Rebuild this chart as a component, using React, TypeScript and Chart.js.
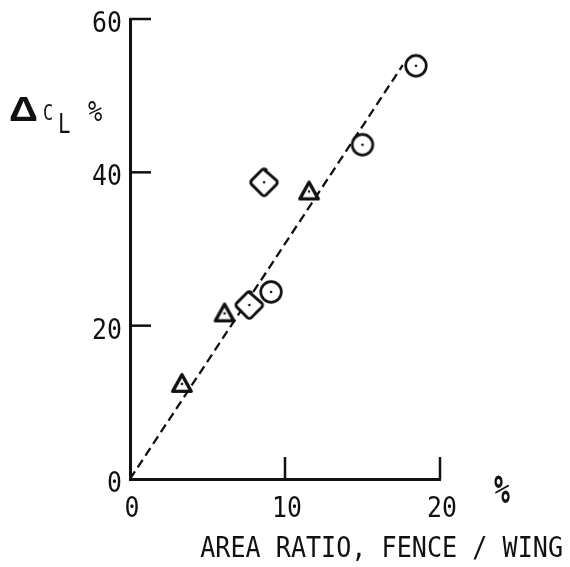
import React, { useEffect, useRef } from "react";
import { Chart, registerables } from "chart.js";

Chart.register(...registerables);

// ---- data ----
const circleX = [9.1, 15.0, 18.45];
const circleY = [24.4, 43.6, 53.9];
const triangleX = [3.35, 6.1, 11.55];
const triangleY = [12.4, 21.6, 37.5];
const diamondX = [7.7, 8.65];
const diamondY = [22.7, 38.7];
const fitX = [0, 17.6];
const fitY = [0, 54.0];
const xTicks = [0, 10, 20];
const yTicks = [0, 20, 40, 60];
const xTitle = "AREA RATIO, FENCE / WING";
const xUnit = "%";
const yTitleDelta = "Δ";
const yTitleC = "C";
const yTitleSub = "L";
const yUnit = "%";

const INK = "#111";
const MONO = '"DejaVu Sans Mono", monospace';

const toPts = (xs: number[], ys: number[]) => xs.map((x, i) => ({ x, y: ys[i] }));

function makeMarker(kind: string): HTMLCanvasElement {
  const size = 40;
  const c = document.createElement("canvas");
  c.width = size;
  c.height = size;
  const g = c.getContext("2d")!;
  const m = size / 2;
  g.strokeStyle = INK;
  g.fillStyle = "#fff";
  g.lineJoin = "round";
  g.beginPath();
  if (kind === "circle") {
    g.lineWidth = 2.7;
    g.arc(m, m, 10.3, 0, Math.PI * 2);
  } else if (kind === "triangle") {
    g.lineWidth = 3.4;
    g.moveTo(m, m - 9.2);
    g.lineTo(m + 9.2, m + 7.4);
    g.lineTo(m - 9.2, m + 7.4);
    g.closePath();
  } else {
    g.lineWidth = 2.9;
    const h = 14.6;
    const r = 3;
    g.moveTo(m, m - h + 2);
    g.arcTo(m + h, m, m, m + h, r);
    g.arcTo(m, m + h, m - h, m, r);
    g.arcTo(m - h, m, m, m - h, r);
    g.arcTo(m, m - h, m + h, m, r);
    g.closePath();
  }
  g.fill();
  g.stroke();
  g.beginPath();
  g.fillStyle = INK;
  g.arc(m, m, 1.3, 0, Math.PI * 2);
  g.fill();
  return c;
}

function drawText(
  ctx: CanvasRenderingContext2D,
  s: string,
  x: number,
  y: number,
  font: string,
  align: CanvasTextAlign,
  sx = 1,
  sy = 1,
  strokeW = 0
) {
  ctx.save();
  ctx.translate(x, y);
  ctx.scale(sx, sy);
  ctx.font = font;
  ctx.textAlign = align;
  ctx.textBaseline = "alphabetic";
  ctx.fillStyle = INK;
  ctx.fillText(s, 0, 0);
  if (strokeW > 0) {
    ctx.strokeStyle = INK;
    ctx.lineWidth = strokeW;
    ctx.lineJoin = "round";
    ctx.strokeText(s, 0, 0);
  }
  ctx.restore();
}

const decorPlugin = {
  id: "decor",
  afterDraw(chart: any) {
    const ctx: CanvasRenderingContext2D = chart.ctx;
    const xs = chart.scales.x;
    const ys = chart.scales.y;
    const left = chart.chartArea.left;
    const bottom = chart.chartArea.bottom;
    ctx.save();
    ctx.strokeStyle = INK;
    ctx.lineWidth = 2.5;
    // tick marks (pointing inward)
    for (const v of yTicks) {
      if (v === 0) continue;
      const py = ys.getPixelForValue(v);
      ctx.beginPath();
      ctx.moveTo(left, py);
      ctx.lineTo(left + 21, py);
      ctx.stroke();
    }
    for (const v of xTicks) {
      if (v === 0) continue;
      const px = xs.getPixelForValue(v);
      ctx.beginPath();
      ctx.moveTo(px, bottom);
      ctx.lineTo(px, bottom - 22);
      ctx.stroke();
    }
    // tick labels
    const tickFont = `27px ${MONO}`;
    for (const v of yTicks) {
      const py = ys.getPixelForValue(v);
      drawText(ctx, String(v), left - 8, py + 13, tickFont, "right", 0.92, 1.02);
    }
    for (const v of xTicks) {
      const px = xs.getPixelForValue(v);
      drawText(ctx, String(v), px + 2, bottom + 38, tickFont, "center", 0.92, 1.02);
    }
    // axis titles
    drawText(ctx, xUnit, 502, 503, `bold 33px ${MONO}`, "center", 0.8, 1.2);
    drawText(ctx, xTitle, 563, 557, `27px ${MONO}`, "right", 0.93, 1.02);
    drawText(ctx, yTitleDelta, 9, 121, `bold 35px "Liberation Sans"`, "left", 1.15, 1);
    drawText(ctx, yTitleC, 43, 120, `21px ${MONO}`, "left", 0.8, 1.0);
    drawText(ctx, yTitleSub, 58, 133, `26px ${MONO}`, "left", 0.8, 1);
    drawText(ctx, yUnit, 88, 121, `28px ${MONO}`, "left", 0.85, 1);
    ctx.restore();
  },
};

export default function App() {
  const ref = useRef<HTMLCanvasElement | null>(null);

  useEffect(() => {
    if (!ref.current) return;
    const chart = new Chart(ref.current, {
      type: "scatter",
      data: {
        datasets: [
          {
            label: "fit",
            data: toPts(fitX, fitY),
            showLine: true,
            borderColor: INK,
            borderWidth: 2.3,
            borderDash: [9, 5],
            pointRadius: 0,
            order: 5,
          } as any,
          {
            label: "circle",
            data: toPts(circleX, circleY),
            pointStyle: makeMarker("circle"),
            pointRadius: 10,
            order: 1,
          } as any,
          {
            label: "triangle",
            data: toPts(triangleX, triangleY),
            pointStyle: makeMarker("triangle"),
            pointRadius: 10,
            order: 1,
          } as any,
          {
            label: "diamond",
            data: toPts(diamondX, diamondY),
            pointStyle: makeMarker("diamond"),
            pointRadius: 10,
            order: 1,
          } as any,
        ],
      },
      options: {
        responsive: false,
        animation: false,
        devicePixelRatio: 1,
        layout: { padding: { left: 130, right: 130, top: 19, bottom: 88 } },
        plugins: {
          legend: { display: false },
          tooltip: { enabled: false },
        },
        scales: {
          x: {
            type: "linear",
            min: 0,
            max: 20,
            ticks: { display: false },
            grid: { display: false, drawTicks: false },
            border: { display: true, width: 3, color: INK },
          },
          y: {
            type: "linear",
            min: 0,
            max: 60,
            ticks: { display: false },
            grid: { display: false, drawTicks: false },
            border: { display: true, width: 3, color: INK },
          },
        },
      },
      plugins: [decorPlugin],
    });
    return () => chart.destroy();
  }, []);

  return (
    <div style={{ position: "absolute", left: 0, top: 0, width: 570, height: 567, background: "#fff" }}>
      <canvas ref={ref} width={570} height={567} style={{ width: 570, height: 567, display: "block" }} />
    </div>
  );
}
